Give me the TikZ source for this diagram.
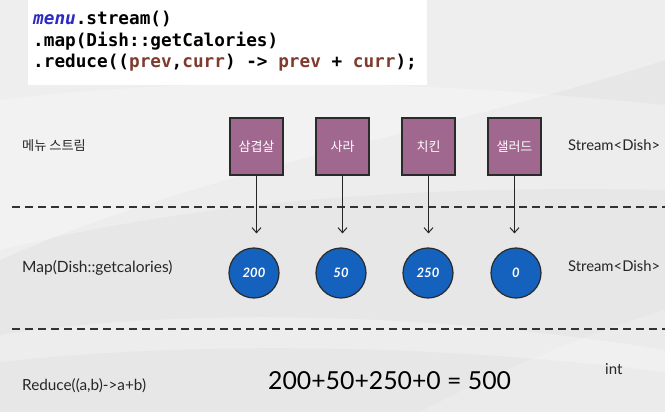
\documentclass[tikz,border=0pt]{standalone}
\usepackage{fontspec}
\setmainfont{Lato}
\newfontfamily\krfont{Noto Sans CJK KR}
\newfontfamily\codefont{DejaVu Sans Mono}
\usetikzlibrary{arrows.meta}

\definecolor{bgbase}{HTML}{E7E7E7}
\definecolor{bglight}{HTML}{F1F1F1}
\definecolor{dishfill}{HTML}{A0688F}
\definecolor{calfill}{HTML}{1462BE}
\definecolor{edgedark}{HTML}{2A2A2A}
\definecolor{kwblue}{HTML}{2B2BC4}
\definecolor{varbrown}{HTML}{7E3B2E}

\tikzset{
  dishbox/.style={draw=edgedark, line width=1.2pt, fill=dishfill,
    minimum width=53pt, minimum height=57pt, inner sep=0pt,
    text=white, font=\krfont\fontsize{13}{15}\selectfont},
  calnode/.style={circle, draw=edgedark, line width=1.2pt, fill=calfill,
    minimum size=50pt, inner sep=0pt,
    text=white, font=\bfseries\itshape\fontsize{13}{15}\selectfont},
  rowlabel/.style={anchor=west, inner sep=0pt, text=black!85,
    font=\fontsize{14.5}{16}\selectfont},
  typelabel/.style={anchor=west, inner sep=0pt, text=black!85,
    font=\fontsize{14.8}{16}\selectfont},
  divider/.style={draw=black!80, line width=2pt, dash pattern=on 8pt off 5pt},
  flow/.style={draw=black!85, line width=1pt, -{Straight Barb[length=5pt,width=9pt]}},
  codeline/.style={anchor=base west, inner sep=0pt,
    font=\codefont\bfseries\fontsize{17.7}{20}\selectfont}
}

\begin{document}
\begin{tikzpicture}[x=1pt, y=-1pt]
  % canvas and soft background sweeps
  \useasboundingbox (0,0) rectangle (665,412);
  \fill[bgbase] (0,0) rectangle (665,412);
  \fill[bglight, opacity=0.7] (0,0) -- (665,0) -- (665,60)
    .. controls (450,130) and (200,170) .. (0,260) -- cycle;
  \fill[white, opacity=0.25] (0,100) .. controls (200,75) and (420,80) .. (665,105)
    -- (665,190) .. controls (420,185) and (200,200) .. (0,250) -- cycle;
  \fill[white, opacity=0.25] (0,335) .. controls (200,305) and (450,315) .. (665,350)
    -- (665,372) .. controls (450,345) and (200,340) .. (0,362) -- cycle;
  \fill[white, opacity=0.2] (420,412) .. controls (520,360) and (600,330) .. (665,310)
    -- (665,412) -- cycle;

  % code panel
  \fill[white] (28,0) rectangle (427,85);
  \node[codeline] (c1) at (33,25)
    {\textcolor{kwblue}{\itshape menu}.stream()};
  \node[codeline] (c2) at (33,47) {.map(Dish::getCalories)};
  \node[codeline] (c3) at (33,68)
    {.reduce((\textcolor{varbrown}{prev},\textcolor{varbrown}{curr}) -> \textcolor{varbrown}{prev} + \textcolor{varbrown}{curr});};

  % row labels
  \node[rowlabel, font=\krfont\fontsize{13.2}{14}\selectfont] (r1) at (22,146) {메뉴 스트림};
  \node[rowlabel, font=\fontsize{15.5}{17}\selectfont] (r2) at (22,268) {Map(Dish::getcalories)};
  \node[rowlabel, font=\fontsize{15.3}{17}\selectfont] (r3) at (22,386) {Reduce((a,b)->a+b)};

  % result types
  \node[typelabel] (t1) at (568,145) {Stream<Dish>};
  \node[typelabel] (t2) at (568,266) {Stream<Dish>};
  \node[typelabel, font=\fontsize{15}{17}\selectfont] (t3) at (605,369) {int};

  % stage dividers
  \draw[divider] (12,207) -- (665,207);
  \draw[divider] (12,329) -- (665,329);

  % source elements
  \node[dishbox] (d1) at (256.5,146.5) {삼겹살};
  \node[dishbox] (d2) at (342.5,146.5) {사라};
  \node[dishbox] (d3) at (428.5,146.5) {치킨};
  \node[dishbox] (d4) at (514.5,146.5) {샐러드};

  % mapped calories
  \node[calnode] (m1) at (254,273) {200};
  \node[calnode] (m2) at (341,273) {50};
  \node[calnode] (m3) at (428,273) {250};
  \node[calnode] (m4) at (516,273) {0};

  \foreach \i in {1,...,4}
    \draw[flow, shorten >=14pt] (d\i.south) -- (d\i.south |- m\i.north);

  % reduced value
  \node[anchor=west, inner sep=0pt, font=\fontsize{24.8}{28}\selectfont] (sum)
    at (268,381) {200+50+250+0 = 500};
\end{tikzpicture}
\end{document}
